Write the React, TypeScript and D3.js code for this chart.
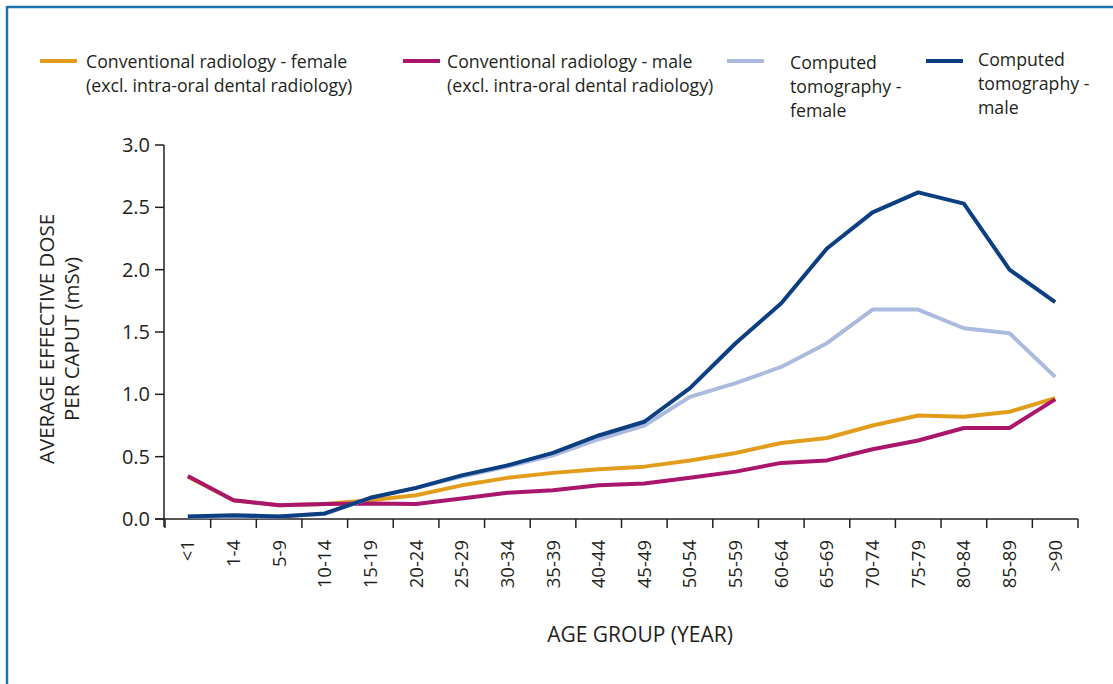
import React from "react";
import * as d3 from "d3";

const ageGroups = ["<1", "1-4", "5-9", "10-14", "15-19", "20-24", "25-29", "30-34", "35-39", "40-44",
  "45-49", "50-54", "55-59", "60-64", "65-69", "70-74", "75-79", "80-84", "85-89", ">90"];

// values in mSv
const convFemale = [0.34, 0.15, 0.11, 0.12, 0.15, 0.19, 0.27, 0.33, 0.37, 0.40,
  0.42, 0.47, 0.53, 0.61, 0.65, 0.75, 0.83, 0.82, 0.86, 0.97];
const convMale = [0.345, 0.15, 0.11, 0.12, 0.125, 0.12, 0.165, 0.21, 0.23, 0.27,
  0.285, 0.33, 0.38, 0.45, 0.47, 0.56, 0.63, 0.73, 0.73, 0.96];
const ctFemale = [0.02, 0.02, 0.02, 0.04, 0.17, 0.25, 0.34, 0.42, 0.51, 0.64,
  0.75, 0.98, 1.09, 1.22, 1.41, 1.68, 1.68, 1.53, 1.49, 1.14];
const ctMale = [0.02, 0.03, 0.02, 0.045, 0.17, 0.25, 0.35, 0.43, 0.53, 0.67,
  0.78, 1.05, 1.41, 1.73, 2.17, 2.46, 2.62, 2.53, 2.0, 1.74];

const yTicks = [0, 0.5, 1, 1.5, 2, 2.5, 3];

const series = [
  { name: "convFemale", values: convFemale, color: "#e39d1c" },
  { name: "convMale", values: convMale, color: "#aa166b" },
  { name: "ctFemale", values: ctFemale, color: "#abbade" },
  { name: "ctMale", values: ctMale, color: "#0c3f82" },
];

const legend = [
  { color: "#e39d1c", x: 40, textX: 86, lines: ["Conventional radiology - female", "(excl. intra-oral dental radiology)"], y0: 68 },
  { color: "#aa166b", x: 403, textX: 447, lines: ["Conventional radiology - male", "(excl. intra-oral dental radiology)"], y0: 68 },
  { color: "#abbade", x: 727, textX: 790, lines: ["Computed", "tomography -", "female"], y0: 69 },
  { color: "#0c3f82", x: 926, textX: 978, lines: ["Computed", "tomography -", "male"], y0: 66 },
];

const font = "'Open Sans', 'Noto Sans', sans-serif";
const ink = "#231f20";

export default function App() {
  const x = d3.scaleBand<string>().domain(ageGroups).range([165, 1078]);
  const y = d3.scaleLinear().domain([0, 3]).range([519, 145]);
  const line = d3.line<number>()
    .x((_, i) => x(ageGroups[i])! + x.bandwidth() / 2)
    .y(d => y(d));

  const edges = ageGroups.map(a => x(a)!).concat([x.range()[1]]);

  return (
    <svg width={1113} height={684} style={{ position: "absolute", left: 0, top: 0, background: "#fff" }}
      fontFamily={font}>
      {/* frame */}
      <line x1={7} x2={1113} y1={7} y2={7} stroke="#1f74ad" strokeWidth={2.5} />
      <line x1={7} x2={7} y1={6} y2={684} stroke="#1f74ad" strokeWidth={2.5} />

      {/* legend */}
      {legend.map(l => (
        <g key={l.lines[0] + l.color}>
          <line x1={l.x} x2={l.x + 37} y1={61} y2={61} stroke={l.color} strokeWidth={4} />
          <text x={l.textX} y={l.y0} fontSize={17.7} fill={ink}>
            {l.lines.map((t, i) => (
              <tspan key={i} x={l.textX} dy={i === 0 ? 0 : 24}>{t}</tspan>
            ))}
          </text>
        </g>
      ))}

      {/* y axis */}
      <line x1={164} x2={164} y1={145} y2={527} stroke={ink} strokeWidth={1.5} />
      {yTicks.map(t => (
        <g key={t}>
          <line x1={155} x2={164} y1={y(t)} y2={y(t)} stroke={ink} strokeWidth={1.5} />
          <text x={150} y={y(t)} dy="0.35em" textAnchor="end" fontSize={20} fill={ink}>{t.toFixed(1)}</text>
        </g>
      ))}
      <text transform="translate(54,339) rotate(-90)" textAnchor="middle" fontSize={20.5} fill={ink}>
        AVERAGE EFFECTIVE DOSE
      </text>
      <text transform="translate(79,339) rotate(-90)" textAnchor="middle" fontSize={20.5} fill={ink}>
        PER CAPUT (mSv)
      </text>

      {/* x axis */}
      <line x1={155} x2={x.range()[1]} y1={y(0)} y2={y(0)} stroke={ink} strokeWidth={1.5} />
      {edges.map((e, i) => (
        <line key={i} x1={e} x2={e} y1={y(0)} y2={y(0) + 9} stroke={ink} strokeWidth={1.5} />
      ))}
      {ageGroups.map(a => (
        <text key={a} transform={`translate(${x(a)! + x.bandwidth() / 2},540) rotate(-90)`}
          dy="0.35em" textAnchor="end" fontSize={18.5} fill={ink}>{a}</text>
      ))}
      <text x={640} y={642} textAnchor="middle" fontSize={21} fill={ink}>AGE GROUP (YEAR)</text>

      {/* lines */}
      {series.map(s => (
        <path key={s.name} d={line(s.values)!} fill="none" stroke={s.color} strokeWidth={4}
          strokeLinejoin="round" strokeLinecap="butt" />
      ))}
    </svg>
  );
}
